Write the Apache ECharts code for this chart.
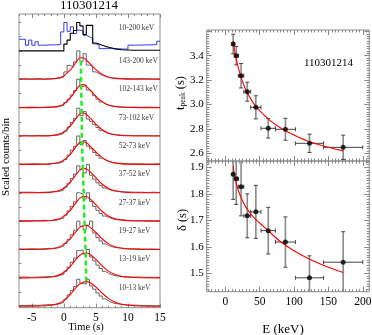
<!DOCTYPE html>
<html><head><meta charset="utf-8">
<script src="https://cdn.jsdelivr.net/npm/echarts@6/dist/echarts.min.js"></script>
<style>html,body{margin:0;padding:0;background:#fff}#c{width:372px;height:335px}</style>
</head><body><div id="c"></div>
<script>
const FONT = '"Liberation Serif","DejaVu Serif",serif';

// ---------- Left panel: light curves (bottom band first) ----------
const bandLabels = ['10-13 keV','13-19 keV','19-27 keV','27-37 keV','37-52 keV','52-73 keV','73-102 keV','102-143 keV','143-200 keV'];
const topLabel = '10-200 keV';
const binEdges = [-7,-6,-5,-4,-3,-2,-1,-0.5,0,0.5,1,1.5,2,2.5,3,3.5,4,4.5,5,5.5,6,6.5,7,7.5,8,9,10,11,12,13,14,15];
const hist_10_13   = [0.03,0.04,0.03,0.05,0.06,0.07,0.1,0.14,0.25,0.4,0.56,0.7,0.95,0.8,0.78,0.95,0.72,0.6,0.47,0.36,0.26,0.19,0.13,0.1,0.07,0.05,0.04,0.03,0.03,0.02,0.02];
const hist_13_19   = [0.03,0.02,0.03,0.04,0.05,0.06,0.09,0.13,0.24,0.38,0.55,0.7,0.96,0.98,0.84,1.0,0.74,0.6,0.45,0.33,0.23,0.16,0.11,0.08,0.05,0.04,0.03,0.03,0.02,0.02,0.02];
const hist_19_27   = [0.02,0.03,0.02,0.03,0.04,0.05,0.08,0.12,0.22,0.36,0.52,0.68,1.0,0.82,0.7,0.86,1.0,0.58,0.42,0.3,0.2,0.14,0.1,0.07,0.05,0.03,0.03,0.02,0.02,0.02,0.01];
const hist_27_37   = [0.02,0.01,0.02,0.03,0.02,0.04,0.07,0.11,0.21,0.36,0.52,0.68,1.0,0.95,0.78,1.0,0.7,0.52,0.38,0.27,0.18,0.13,0.09,0.06,0.05,0.03,0.02,0.02,0.02,0.01,0.02];
const hist_37_52   = [0.02,0.02,0.01,0.02,0.03,0.04,0.06,0.1,0.2,0.34,0.5,0.66,0.95,0.82,0.7,1.0,0.62,0.48,0.35,0.25,0.17,0.12,0.08,0.06,0.04,0.03,0.02,0.02,0.01,0.02,0.01];
const hist_52_73   = [0.01,0.02,0.02,0.01,0.03,0.03,0.06,0.1,0.18,0.33,0.5,0.64,1.0,0.7,0.84,0.64,0.55,0.42,0.31,0.22,0.15,0.1,0.07,0.05,0.04,0.02,0.02,0.02,0.01,0.01,0.02];
const hist_73_102  = [0.02,0.01,0.02,0.01,0.02,0.03,0.05,0.09,0.17,0.32,0.48,0.62,0.98,0.72,0.86,0.6,0.52,0.4,0.3,0.2,0.13,0.09,0.06,0.05,0.03,0.02,0.01,0.02,0.02,0.01,0.01];
const hist_102_143 = [0.01,0.02,0.01,0.02,0.03,0.02,0.05,0.08,0.18,0.3,0.45,0.6,1.0,0.74,0.8,0.62,0.55,0.42,0.3,0.2,0.13,0.08,0.06,0.04,0.03,0.02,0.02,0.01,0.02,0.01,0.01];
const hist_143_200 = [0.02,0.01,0.03,0.01,0.02,0.03,0.04,0.08,0.26,0.49,0.44,0.61,1.0,0.62,0.9,0.5,0.45,0.26,0.2,0.14,0.1,0.07,0.05,0.04,0.03,0.02,0.01,0.03,0.02,0.01,0.02];
const hist_total   = [0,0,0,0,0,0,0,0,0.24,0.38,0.62,0.72,1.0,0.88,0.58,0.9,0.9,0.28,0.24,0.2,0.16,0.13,0.1,0.07,0.04,0.03,0.02,0.02,0.02,0.02,0.02];
const blueEdges = [-7,-6,-5.5,-5,-4.5,-4,-3.5,-0.5,0,0.5,1,1.5,2,2.5,3,3.5,4,4.5,5,5.5,7.5,10,11,14.5,15];
const hist_blue = [0.41,0.2,0.38,0.2,0.32,0.2,0.22,0.67,1.0,0.69,0.85,0.61,0.73,0.7,0.55,0.5,0.43,0.25,0.2,0.08,0.06,0.2,0.22,0.34];

const fitT = [-7,-5,-3,-2,-1,0,1,1.5,2,2.5,3,3.5,4,5,6,7,8,9,10,12,15];
const fit_10_13   = [0.003,0.006,0.018,0.035,0.085,0.2,0.41,0.55,0.68,0.79,0.85,0.87,0.85,0.68,0.46,0.27,0.14,0.07,0.035,0.008,0.002];
const fit_13_19   = [0,0.003,0.012,0.03,0.08,0.19,0.4,0.54,0.68,0.8,0.86,0.88,0.84,0.65,0.42,0.23,0.12,0.055,0.025,0.005,0.001];
const fit_19_27   = [0,0.002,0.01,0.025,0.07,0.18,0.38,0.52,0.66,0.78,0.84,0.85,0.8,0.6,0.37,0.2,0.1,0.045,0.02,0.004,0.001];
const fit_27_37   = [0,0.002,0.008,0.022,0.065,0.17,0.38,0.53,0.68,0.81,0.87,0.87,0.8,0.58,0.34,0.17,0.08,0.035,0.015,0.003,0];
const fit_37_52   = [0,0.001,0.007,0.02,0.06,0.16,0.37,0.52,0.67,0.8,0.86,0.84,0.76,0.53,0.3,0.15,0.07,0.03,0.012,0.003,0];
const fit_52_73   = [0,0.001,0.006,0.018,0.055,0.15,0.36,0.5,0.65,0.77,0.8,0.76,0.67,0.44,0.24,0.11,0.05,0.02,0.008,0.002,0];
const fit_73_102  = [0,0,0.005,0.015,0.05,0.14,0.35,0.5,0.65,0.78,0.81,0.76,0.66,0.42,0.22,0.1,0.045,0.018,0.007,0.001,0];
const fit_102_143 = [0,0,0.004,0.012,0.045,0.13,0.34,0.49,0.65,0.78,0.81,0.75,0.64,0.40,0.21,0.09,0.04,0.015,0.006,0.001,0];
const fit_143_200 = [0,0,0.003,0.01,0.04,0.12,0.33,0.47,0.63,0.76,0.76,0.68,0.57,0.34,0.17,0.07,0.03,0.01,0.005,0,0];
const fitPeakLevel = [0.87,0.88,0.85,0.88,0.86,0.80,0.81,0.81,0.77];

const bandHists = [hist_10_13,hist_13_19,hist_19_27,hist_27_37,hist_37_52,hist_52_73,hist_73_102,hist_102_143,hist_143_200];
const bandFits = [fit_10_13,fit_13_19,fit_19_27,fit_27_37,fit_37_52,fit_52_73,fit_73_102,fit_102_143,fit_143_200];
const timeTicks = [-5,0,5,10,15];

// ---------- Right panels ----------
const energyCenter = [11.5,16,23,32,44.5,62.5,87.5,122.5,171.5];
const energyLo = [10,13,19,27,37,52,73,102,143];
const energyHi = [13,19,27,37,52,73,102,143,200];
const tPeak = [3.496,3.40,3.236,3.105,2.977,2.805,2.797,2.682,2.649];
const tPeakErr = [0.08,0.075,0.1,0.078,0.095,0.08,0.09,0.075,0.1];
const delta = [1.874,1.857,1.827,1.717,1.732,1.661,1.618,1.483,1.542];
const deltaErr = [0.095,0.097,0.11,0.083,0.10,0.088,0.095,0.083,0.115];
const fitE = [11.5,14,17,20,25,30,40,50,65,80,100,125,150,171.5];
const tPeakFit = [3.52,3.43,3.35,3.28,3.19,3.12,3.02,2.95,2.87,2.81,2.75,2.69,2.65,2.62];
const deltaFit = [1.905,1.86,1.83,1.805,1.775,1.75,1.715,1.69,1.655,1.62,1.585,1.55,1.523,1.503];
const energyTicks = [0,50,100,150,200];
const tPeakTicks = [2.6,2.8,3.0,3.2,3.4];
const deltaTicks = [1.5,1.6,1.7,1.8,1.9];
const grbName = '110301214';

function range(a, b, s) { const r = []; for (let v = a; v <= b + 1e-9; v += s) r.push(+v.toFixed(4)); return r; }

function ax(gridIndex, position, min, max, ticks, len, labels, labelOpts) {
  return {
    type: 'value', gridIndex, position, min, max,
    axisLine: {show: false, onZero: false}, splitLine: {show: false},
    axisTick: {show: true, inside: true, length: len, customValues: ticks, lineStyle: {color: '#888', width: 1}},
    axisLabel: labels ? Object.assign({show: true, customValues: labels, color: '#000', fontFamily: FONT, fontSize: 11.5}, labelOpts || {}) : {show: false}
  };
}

function stepData(edges, vals, off) {
  const d = [];
  for (let k = 0; k < vals.length; k++) d.push([edges[k], vals[k] + off]);
  d.push([edges[edges.length - 1], vals[vals.length - 1] + off]);
  return d;
}

const LX = [-7, 15], LY = [-0.05, 10.3];
const RX = [-27, 209.5], RT = [2.537, 3.611], RB = [1.4306, 1.924];

const xAxes = [
  ax(0,'bottom',LX[0],LX[1],timeTicks,4,timeTicks,{margin:4,fontSize:11.5}),
  ax(0,'top',LX[0],LX[1],timeTicks,4),
  ax(0,'bottom',LX[0],LX[1],range(-7,15,1),2),
  ax(0,'top',LX[0],LX[1],range(-7,15,1),2),
  ax(1,'bottom',RX[0],RX[1],energyTicks,5),
  ax(1,'top',RX[0],RX[1],energyTicks,5),
  ax(1,'bottom',RX[0],RX[1],range(-25,205,5),2.5),
  ax(1,'top',RX[0],RX[1],range(-25,205,5),2.5),
  ax(2,'bottom',RX[0],RX[1],energyTicks,5,energyTicks,{margin:4}),
  ax(2,'top',RX[0],RX[1],energyTicks,5),
  ax(2,'bottom',RX[0],RX[1],range(-25,205,5),2.5),
  ax(2,'top',RX[0],RX[1],range(-25,205,5),2.5)
];
const yAxes = [
  ax(0,'left',LY[0],LY[1],range(0,10,0.5),2.5),
  ax(1,'left',RT[0],RT[1],tPeakTicks.concat([3.6]),5,tPeakTicks,{margin:3,fontSize:11,formatter:v=>(+v).toFixed(1)}),
  ax(1,'right',RT[0],RT[1],tPeakTicks.concat([3.6]),5),
  ax(1,'left',RT[0],RT[1],range(2.54,3.6,0.02),2.5),
  ax(1,'right',RT[0],RT[1],range(2.54,3.6,0.02),2.5),
  ax(2,'left',RB[0],RB[1],deltaTicks,5,deltaTicks,{margin:3,fontSize:11,formatter:v=>(+v).toFixed(1)}),
  ax(2,'right',RB[0],RB[1],deltaTicks,5),
  ax(2,'left',RB[0],RB[1],range(1.44,1.92,0.01),2.5),
  ax(2,'right',RB[0],RB[1],range(1.44,1.92,0.01),2.5)
];

const series = [];
series.push({type:'line', xAxisIndex:0, yAxisIndex:0, step:'end', showSymbol:false, silent:true,
  data: stepData(blueEdges, hist_blue, 9), lineStyle:{color:'#3a3af0', width:1}, z:2});
series.push({type:'line', xAxisIndex:0, yAxisIndex:0, step:'end', showSymbol:false, silent:true,
  data: stepData(binEdges, hist_total, 9), lineStyle:{color:'#000', width:1.1}, z:3});
bandHists.forEach((h, i) => {
  series.push({type:'line', xAxisIndex:0, yAxisIndex:0, step:'end', showSymbol:false, silent:true,
    data: stepData(binEdges, h, i), lineStyle:{color:'#666', width:1}, z:2});
});
bandFits.forEach((f, i) => {
  series.push({type:'line', xAxisIndex:0, yAxisIndex:0, smooth:0.35, showSymbol:false, silent:true,
    data: fitT.map((t, k) => [t, f[k] + i]), lineStyle:{color:'#ff0000', width:1.1}, z:4});
});
series.push({type:'line', xAxisIndex:0, yAxisIndex:0, showSymbol:false, silent:true,
  data: tPeak.map((t, i) => [t, i + fitPeakLevel[i]]),
  lineStyle:{color:'#22ee22', width:2.5, type:[5,3]}, z:5});
series.push({type:'scatter', xAxisIndex:0, yAxisIndex:0, symbolSize:0, silent:true,
  data: bandLabels.map((t, i) => ({name:t, value:[8.55, i + 0.65]})).concat([{name:topLabel, value:[8.55, 9.8]}]),
  label:{show:true, position:'right', distance:0, formatter:'{b}', fontFamily:FONT, fontSize:7.5, color:'#000'}, z:6});

function errRender(params, api) {
  const x = api.value(0), y = api.value(1), xl = api.value(2), xh = api.value(3), ey = api.value(4);
  const c = api.coord([x, y]), pl = api.coord([xl, y]), ph = api.coord([xh, y]);
  const pt = api.coord([x, y + ey]), pb = api.coord([x, y - ey]);
  const cap = 2;
  const hs = {stroke:'#444', lineWidth:1}, vs = {stroke:'#8a8a8a', lineWidth:1.6};
  return {type:'group', children:[
    {type:'line', shape:{x1:pl[0], y1:c[1], x2:ph[0], y2:c[1]}, style:hs},
    {type:'line', shape:{x1:pl[0], y1:c[1]-cap, x2:pl[0], y2:c[1]+cap}, style:hs},
    {type:'line', shape:{x1:ph[0], y1:c[1]-cap, x2:ph[0], y2:c[1]+cap}, style:hs},
    {type:'line', shape:{x1:c[0], y1:pt[1], x2:c[0], y2:pb[1]}, style:vs},
    {type:'line', shape:{x1:c[0]-cap, y1:pt[1], x2:c[0]+cap, y2:pt[1]}, style:hs},
    {type:'line', shape:{x1:c[0]-cap, y1:pb[1], x2:c[0]+cap, y2:pb[1]}, style:hs}
  ]};
}
[[4, 1, tPeak, tPeakErr, tPeakFit], [8, 5, delta, deltaErr, deltaFit]].forEach(([xi, yi, vals, errs, fit]) => {
  series.push({type:'custom', xAxisIndex:xi, yAxisIndex:yi, clip:true, silent:true, renderItem:errRender,
    data: vals.map((v, i) => [energyCenter[i], v, energyLo[i], energyHi[i], errs[i]]), z:2});
  series.push({type:'line', xAxisIndex:xi, yAxisIndex:yi, smooth:0.4, showSymbol:false, silent:true,
    data: fitE.map((e, k) => [e, fit[k]]), lineStyle:{color:'#ff0000', width:1.1}, z:3});
  series.push({type:'scatter', xAxisIndex:xi, yAxisIndex:yi, symbol:'circle', symbolSize:5, silent:true,
    data: vals.map((v, i) => [energyCenter[i], v]), itemStyle:{color:'#000'}, z:4});
});

const gridBase = {show:true, borderColor:'#8c8c8c', borderWidth:1, backgroundColor:'transparent', containLabel:false, outerBoundsMode:'none'};
const option = {
  animation:false,
  grid:[
    Object.assign({left:19, right:212, top:14, bottom:27.3}, gridBase),
    Object.assign({left:206.7, right:2.7, top:30, bottom:174}, gridBase),
    Object.assign({left:206.7, right:2.7, top:161, bottom:43.3}, gridBase)
  ],
  xAxis: xAxes, yAxis: yAxes, series,
  graphic:[
    {type:'text', x:89, y:6, style:{text:grbName, font:'13px ' + FONT, fill:'#000', align:'center', verticalAlign:'middle'}},
    {type:'text', x:86, y:327, style:{text:'Time (s)', font:'10.5px ' + FONT, fill:'#000', align:'center', verticalAlign:'middle'}},
    {type:'text', x:6, y:157, rotation:Math.PI/2, style:{text:'Scaled counts/bin', font:'11px ' + FONT, fill:'#000', align:'center', verticalAlign:'middle'}},
    {type:'text', x:328.5, y:63, style:{text:grbName, font:'11px ' + FONT, fill:'#000', align:'center', verticalAlign:'middle'}},
    {type:'text', x:283, y:330, style:{text:'E (keV)', font:'13px ' + FONT, fill:'#000', align:'center', verticalAlign:'middle'}},
    {type:'text', x:181, y:93, rotation:Math.PI/2, style:{text:'{a|t}{b|peak}{a| (s)}', align:'center', verticalAlign:'middle',
      rich:{a:{fontSize:12.5, fontFamily:FONT, fill:'#000', lineHeight:13}, b:{fontSize:7.5, fontFamily:FONT, fill:'#000', verticalAlign:'bottom', lineHeight:8}}}},
    {type:'text', x:183, y:220, rotation:Math.PI/2, style:{text:'δ (s)', font:'12.5px ' + FONT, fill:'#000', align:'center', verticalAlign:'middle'}}
  ]
};
const chart = echarts.init(document.getElementById('c'), null, {renderer:'canvas'});
chart.setOption(option);
</script></body></html>
